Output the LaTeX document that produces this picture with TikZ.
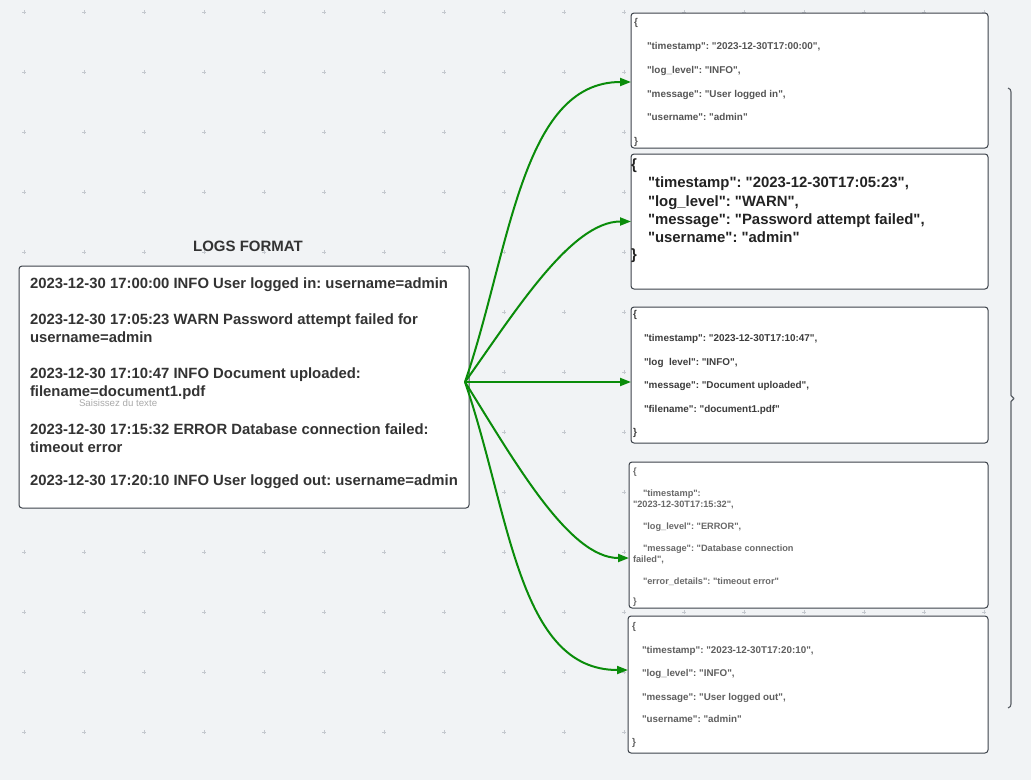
\documentclass[tikz,border=0pt]{standalone}
\usepackage{fontspec}
\setmainfont{Liberation Sans}
\usetikzlibrary{arrows.meta}
\definecolor{bg}{RGB}{241,243,245}
\definecolor{gridc}{RGB}{196,200,206}
\definecolor{edge}{RGB}{60,66,74}
\definecolor{arr}{RGB}{10,140,10}
\definecolor{tdark}{RGB}{51,51,51}
\definecolor{tone}{RGB}{85,85,85}
\definecolor{ttwo}{RGB}{35,35,35}
\definecolor{tthree}{RGB}{60,60,60}
\definecolor{tfour}{RGB}{105,105,105}
\definecolor{tfive}{RGB}{95,95,95}
\definecolor{hint}{RGB}{170,170,170}
\newcommand\fsz[1]{\fontsize{#1}{#1}\selectfont}
\newcommand\q[1]{\textquotedbl#1\textquotedbl}
\frenchspacing
\begin{document}
\begin{tikzpicture}[x=1pt,y=-1pt,
  txt/.style={anchor=base west, inner sep=0pt, outer sep=0pt},
  jbox/.style={draw=edge, fill=white, line width=1pt, rounded corners=3pt, inner sep=0pt, outer sep=0pt, anchor=north west},
  flow/.style={draw=arr, line width=2pt, -{Triangle[length=11pt,width=8pt]}},
  brk/.style={draw=edge!85, line width=1.1pt, line join=round}]
\useasboundingbox (0,0) rectangle (1031,780);
\fill[bg] (0,0) rectangle (1031,780);
% grid marks
\foreach \gx in {24,84,...,1000} {
  \foreach \gy in {12,72,...,780} {
    \draw[gridc, line width=0.4pt] (\gx-2,\gy) -- (\gx+2,\gy) (\gx,\gy-2) -- (\gx,\gy+2);
  }
}
% left box
\node[jbox, minimum width=450pt, minimum height=242pt] (logs) at (19,266) {};
\node[anchor=base, inner sep=0pt, font=\fsz{15}\bfseries, text=tdark] (title) at (248,251) {LOGS FORMAT};
\begin{scope}[every node/.append style={font=\fsz{14.85}\bfseries, text=tdark}]
\node[txt] (l1) at (30,288.5) {2023-12-30 17:00:00 INFO User logged in: username=admin};
\node[txt] (l2) at (30,324.5) {2023-12-30 17:05:23 WARN Password attempt failed for};
\node[txt] (l2b) at (30,342.5) {username=admin};
\node[txt] (l3) at (30,378.5) {2023-12-30 17:10:47 INFO Document uploaded:};
\node[txt] (l3b) at (30,396.5) {filename=document1.pdf};
\node[txt] (l4) at (30,434.5) {2023-12-30 17:15:32 ERROR Database connection failed:};
\node[txt] (l4b) at (30,452.5) {timeout error};
\node[txt] (l5) at (30,485.5) {2023-12-30 17:20:10 INFO User logged out: username=admin};
\end{scope}
\node[txt, font=\fsz{9.7}, text=hint] (hintx) at (79,406.5) {Saisissez du texte};
% right boxes
\node[jbox, minimum width=357pt, minimum height=135pt] (b1) at (631,13) {};
\node[jbox, minimum width=357pt, minimum height=135pt] (b2) at (631,154) {};
\node[jbox, minimum width=357pt, minimum height=136pt] (b3) at (631,307) {};
\node[jbox, minimum width=359pt, minimum height=146pt] (b4) at (629,462) {};
\node[jbox, minimum width=360pt, minimum height=137pt] (b5) at (628,616) {};
% box 1 text
\begin{scope}[every node/.append style={font=\fsz{9.9}\bfseries, text=tone}]
\node[txt] (b1o) at (634,25.7) {\{};
\node[txt] (b1a) at (647,49.5) {\q{timestamp}: \q{2023-12-30T17:00:00},};
\node[txt] (b1b) at (647,73.3) {\q{log\_level}: \q{INFO},};
\node[txt] (b1c) at (647,97.1) {\q{message}: \q{User logged in},};
\node[txt] (b1d) at (647,120.9) {\q{username}: \q{admin}};
\node[txt] (b1e) at (634,144.7) {\}};
\end{scope}
% box 2 text
\begin{scope}[every node/.append style={font=\fsz{14.9}\bfseries, text=ttwo}]
\node[txt] (b2o) at (631,169.7) {\{};
\node[txt] (b2a) at (648,187.9) {\q{timestamp}: \q{2023-12-30T17:05:23},};
\node[txt] (b2b) at (648,206.1) {\q{log\_level}: \q{WARN},};
\node[txt] (b2c) at (648,224.3) {\q{message}: \q{Password attempt failed},};
\node[txt] (b2d) at (648,242.5) {\q{username}: \q{admin}};
\node[txt] (b2e) at (631,259.5) {\}};
\end{scope}
% box 3 text
\begin{scope}[every node/.append style={font=\fsz{9.9}\bfseries, text=tthree}]
\node[txt] (b3o) at (633,317.7) {\{};
\node[txt] (b3a) at (644,341.8) {\q{timestamp}: \q{2023-12-30T17:10:47},};
\node[txt] (b3b) at (644,365.8) {\q{log\ \ level}: \q{INFO},};
\node[txt] (b3c) at (644,388.8) {\q{message}: \q{Document uploaded},};
\node[txt] (b3d) at (644,412.8) {\q{filename}: \q{document1.pdf}};
\node[txt] (b3e) at (633,435.7) {\}};
\end{scope}
% box 4 text
\begin{scope}[every node/.append style={font=\fsz{9.2}\bfseries, text=tfour}]
\node[txt] (b4o) at (633,474.6) {\{};
\node[txt] (b4a) at (643,496.6) {\q{timestamp}:};
\node[txt] (b4a2) at (633,507.6) {\q{2023-12-30T17:15:32},};
\node[txt] (b4b) at (643,529.6) {\q{log\_level}: \q{ERROR},};
\node[txt] (b4c) at (643,551.6) {\q{message}: \textquotedbl Database connection};
\node[txt] (b4c2) at (633,562.6) {failed\textquotedbl,};
\node[txt] (b4d) at (643,584.6) {\q{error\_details}: \q{timeout error}};
\node[txt] (b4e) at (633,604.6) {\}};
\end{scope}
% box 5 text
\begin{scope}[every node/.append style={font=\fsz{9.8}\bfseries, text=tfive}]
\node[txt] (b5o) at (632,629.7) {\{};
\node[txt] (b5a) at (642,653.8) {\q{timestamp}: \q{2023-12-30T17:20:10},};
\node[txt] (b5b) at (642,676.8) {\q{log\_level}: \q{INFO},};
\node[txt] (b5c) at (642,700.8) {\q{message}: \q{User logged out},};
\node[txt] (b5d) at (642,722.8) {\q{username}: \q{admin}};
\node[txt] (b5e) at (632,745.7) {\}};
\end{scope}
% connectors
\coordinate (src) at ([xshift=-4pt,yshift=5pt]logs.east);
\coordinate (t1) at ([yshift=-1.5pt]b1.west);
\coordinate (t2) at (b2.west);
\coordinate (t3) at ([yshift=-7pt]b3.west);
\coordinate (t4) at ([yshift=-23pt]b4.west);
\coordinate (t5) at ([yshift=14.5pt]b5.west);
\draw[flow] (src) .. controls +(45,-131) and +(-110,0) .. (t1);
\draw[flow] (src) .. controls +(50,-70) and +(-60,0) .. (t2);
\draw[flow] (src) -- (t3);
\draw[flow] (src) .. controls +(50,80) and +(-60,0) .. (t4);
\draw[flow] (src) .. controls +(45,131) and +(-110,0) .. (t5);
% brace
\draw[brk] (1008,88) .. controls (1010,88.5) and (1011,90) .. (1011,92) -- (1011,395.5) -- (1014,398.5) -- (1011,401.5) -- (1011,704) .. controls (1011,706) and (1010,707.5) .. (1008,708);
\end{tikzpicture}
\end{document}
